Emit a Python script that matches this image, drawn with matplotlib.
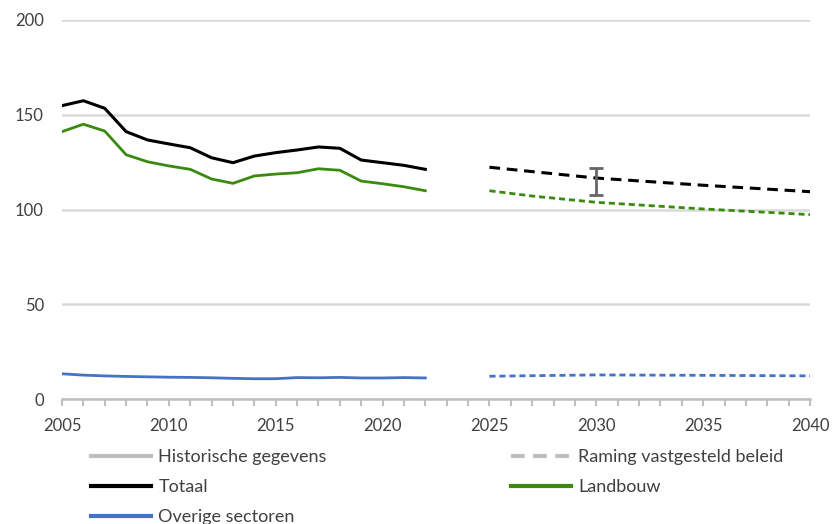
import numpy as np
import matplotlib.pyplot as plt
from matplotlib.lines import Line2D

plt.rcParams['font.family'] = ['Lato', 'DejaVu Sans']

# historische gegevens
jaren_hist = list(range(2005, 2023))
totaal_hist = [154.8, 157.4, 153.4, 141.1, 136.7, 134.6, 132.6, 127.3, 124.7,
               128.2, 130.0, 131.4, 133.0, 132.3, 126.1, 124.7, 123.3, 121.2]
landbouw_hist = [141.1, 145.0, 141.4, 128.9, 125.2, 123.0, 121.2, 116.1, 113.8,
                 117.7, 118.7, 119.4, 121.5, 120.7, 115.0, 113.6, 112.0, 109.9]
overig_hist = [13.3, 12.6, 12.2, 11.9, 11.7, 11.5, 11.4, 11.2, 10.9,
               10.7, 10.7, 11.3, 11.2, 11.4, 11.1, 11.1, 11.3, 11.1]

# raming vastgesteld beleid
jaren_raming = [2025, 2027, 2030, 2035, 2040]
totaal_raming = [122.3, 120.0, 116.6, 112.8, 109.4]
landbouw_raming = [109.9, 107.1, 103.8, 100.3, 97.3]
overig_raming = [12.0, 12.3, 12.7, 12.5, 12.2]

# bandbreedte 2030
band_jaar = 2030
band_mid = 116.6
band_laag = 107.5
band_hoog = 121.7

zwart = '#000000'
groen = '#3a8a10'
blauw = '#4472c4'
grijs = '#bfbfbf'

fig = plt.figure(figsize=(8.32, 5.24), dpi=100)
ax = fig.add_axes([62/832, 125/524, 748/832, 379/524])

ax.plot(jaren_hist, totaal_hist, color=zwart, lw=2.2, solid_joinstyle='round')
ax.plot(jaren_hist, landbouw_hist, color=groen, lw=2.0)
ax.plot(jaren_hist, overig_hist, color=blauw, lw=2.0)

ax.plot(jaren_raming, totaal_raming, color=zwart, lw=2.2, dashes=(3.5, 2.2))
ax.plot(jaren_raming, landbouw_raming, color=groen, lw=2.0, dashes=(2.2, 1.4))
ax.plot(jaren_raming, overig_raming, color=blauw, lw=2.0, dashes=(2.2, 1.4))

ax.errorbar([band_jaar], [band_mid],
            yerr=[[band_mid - band_laag], [band_hoog - band_mid]],
            fmt='none', ecolor='#666666', elinewidth=2, capsize=5, capthick=2)

ax.set_xlim(2005, 2040)
ax.set_ylim(0, 200)
ax.set_yticks([0, 50, 100, 150, 200])
ax.set_xticks(np.arange(2005, 2041, 5))
ax.set_xticks(np.arange(2005, 2041, 1), minor=True)
ax.grid(axis='y', color='#d9d9d9', lw=1.8)
ax.set_axisbelow(True)
for s in ['top', 'right', 'left']:
    ax.spines[s].set_visible(False)
ax.spines['bottom'].set_color(grijs)
ax.spines['bottom'].set_linewidth(1.8)
ax.tick_params(axis='y', length=0, pad=13, labelsize=12, labelcolor='#404040')
ax.tick_params(axis='x', which='both', direction='out', length=5, width=1.5,
               color=grijs, pad=9, labelsize=12, labelcolor='#404040')

handles = [
    Line2D([], [], color=grijs, lw=3),
    Line2D([], [], color=zwart, lw=3),
    Line2D([], [], color=blauw, lw=3),
    Line2D([], [], color=grijs, lw=3, dashes=(3.3, 2.0)),
    Line2D([], [], color=groen, lw=3),
]
labels = ['Historische gegevens', 'Totaal', 'Overige sectoren',
          'Raming vastgesteld beleid', 'Landbouw']
fig.legend(handles, labels, ncol=2, loc='upper left',
           bbox_to_anchor=(91/832, 1 - 449/524), frameon=False,
           fontsize=13.0, labelcolor='#404040', handlelength=3.35,
           handletextpad=0.38, columnspacing=10.2, labelspacing=0.78,
           borderpad=0, borderaxespad=0)

fig.savefig('out.png', dpi=100)
